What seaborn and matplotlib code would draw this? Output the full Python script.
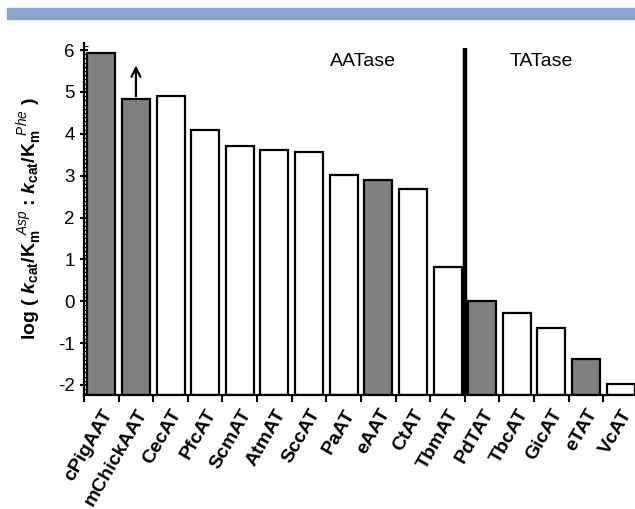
import numpy as np
import pandas as pd
import matplotlib
matplotlib.use("Agg")
import matplotlib.pyplot as plt
from matplotlib.patches import Rectangle
from matplotlib.ticker import MultipleLocator
import seaborn as sns

# data
enzymes = ["cPigAAT", "mChickAAT", "CecAT", "PfcAT", "ScmAT", "AtmAT", "SccAT",
           "PaAT", "eAAT", "CtAT", "TbmAT", "PdTAT", "TbcAT", "GicAT", "eTAT", "VcAT"]
values = [5.94, 4.83, 4.90, 4.09, 3.70, 3.62, 3.56, 3.01, 2.89, 2.67, 0.81,
          0.0, -0.29, -0.63, -1.39, -1.98]
kind = ["filled", "filled", "open", "open", "open", "open", "open", "open",
        "filled", "open", "open", "filled", "open", "open", "filled", "open"]
arrow_top = 5.70          # lower-bound arrow on mChickAAT
n_aat = 11                # first 11 are AATases, rest TATases

df = pd.DataFrame({"enzyme": enzymes, "value": values, "kind": kind})

sns.set_style("ticks")
plt.rcParams["font.family"] = ["Liberation Sans", "DejaVu Sans"]
plt.rcParams["axes.unicode_minus"] = False
for key in ["text.color", "axes.labelcolor", "xtick.color", "ytick.color", "axes.edgecolor"]:
    plt.rcParams[key] = "black"
plt.rcParams["mathtext.fontset"] = "custom"
plt.rcParams["mathtext.rm"] = "Liberation Sans:bold"
plt.rcParams["mathtext.bf"] = "Liberation Sans:bold"
plt.rcParams["mathtext.it"] = "Liberation Sans:italic"
plt.rcParams["mathtext.bfit"] = "Liberation Sans:bold:italic"

fig = plt.figure(figsize=(6.35, 5.09), dpi=100)
fig.patches.append(Rectangle((7 / 635, 1 - 19 / 509), 628 / 635, 11 / 509,
                             transform=fig.transFigure, color="#8BA5CC", zorder=0))
ax = fig.add_axes([84 / 635, 114 / 509, 554 / 635, 352 / 509])

ymin, ymax = -2.24, 6.17
sns.barplot(data=df, x="enzyme", y="value", hue="kind", dodge=False,
            palette={"filled": "#808080", "open": "white"}, width=0.81,
            edgecolor="black", linewidth=1.6, legend=False, ax=ax)

# bars rise from the bottom of the axis, not from zero
for p in ax.patches:
    top = p.get_y() + p.get_height()
    p.set_y(ymin)
    p.set_height(top - ymin)

ax.set_ylim(ymin, ymax)
ax.set_xlim(-0.5, len(enzymes) - 0.5)

ax.annotate("", xy=(1, arrow_top), xytext=(1, values[1]),
            arrowprops=dict(arrowstyle="->", lw=1.6, color="black", mutation_scale=16))

ax.plot([n_aat - 0.5, n_aat - 0.5], [ymin, 6.04], color="black", lw=3.2,
        solid_capstyle="butt", clip_on=False)
ax.text(7.55, 5.72, "AATase", ha="center", va="center", fontsize=14)
ax.text(12.7, 5.72, "TATase", ha="center", va="center", fontsize=14)

ax.set_xticks(np.arange(-0.5, len(enzymes), 1))
ax.set_xticklabels([])
ax.set_xticks(np.arange(len(enzymes)), minor=True)
ax.set_xticklabels(enzymes, minor=True, rotation=60, ha="right",
                   rotation_mode="anchor", fontweight="bold", fontsize=14)
ax.tick_params(axis="x", which="major", length=5, width=1.5, direction="out")
ax.tick_params(axis="x", which="minor", length=0, pad=8)

ax.set_yticks(np.arange(-2, 7, 1))
ax.yaxis.set_minor_locator(MultipleLocator(0.1))
ax.tick_params(axis="y", which="major", length=6, width=1.5, direction="inout", labelsize=13.5)
ax.tick_params(axis="y", which="minor", length=3, width=0.8, direction="in")

ax.set_xlabel("")
ax.set_ylabel(r"log ( $\mathbfit{k}_{\mathbf{cat}}$/$\mathbf{K}_{\mathbf{m}}^{\ \ \mathit{Asp}}$"
              r" : $\mathbfit{k}_{\mathbf{cat}}$/$\mathbf{K}_{\mathbf{m}}^{\ \ \mathit{Phe}}$ )",
              fontsize=14, fontweight="bold", labelpad=10)

for s in ["top", "right"]:
    ax.spines[s].set_visible(False)
for s in ["left", "bottom"]:
    ax.spines[s].set_linewidth(1.6)

fig.savefig("out.png", dpi=100)
